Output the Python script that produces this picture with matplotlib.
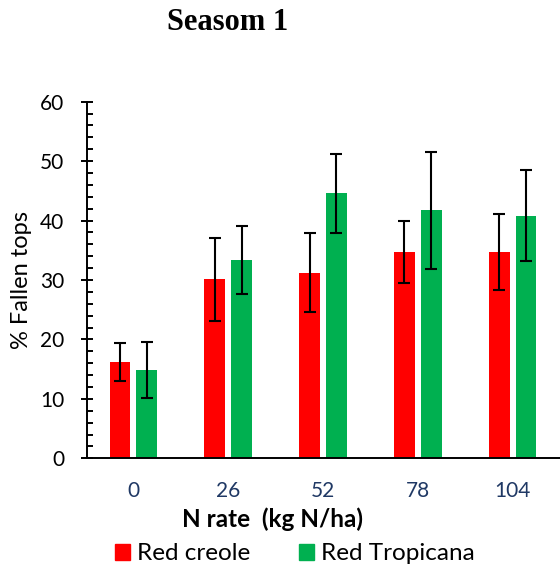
import numpy as np
import matplotlib
matplotlib.use("Agg")
import matplotlib.pyplot as plt
from matplotlib.patches import Patch
from matplotlib.ticker import MultipleLocator

rates = ["0", "26", "52", "78", "104"]
creole = [16.25, 30.1, 31.2, 34.7, 34.7]
creole_err = [3.2, 7.05, 6.65, 5.2, 6.45]
tropicana = [14.9, 33.4, 44.6, 41.7, 40.8]
tropicana_err = [4.7, 5.7, 6.65, 9.9, 7.65]

RED = "#FF0000"
GREEN = "#00B050"
NAVY = "#1F3864"
FONT = "Lato"

W, H = 560, 571
fig = plt.figure(figsize=(W / 100, H / 100), dpi=100)
# axes box in pixel terms: spine at x=87, zero line at y=458, 60 at y=102
ax = fig.add_axes([87 / W, 1 - 458.3 / H, (W - 87) / W, (458.3 - 101.7) / H])

x = np.arange(len(rates))
bw = 0.22
off = 0.142
ekw = dict(ecolor="black", elinewidth=1.5, capsize=4.2, capthick=1.5)
ax.bar(x - off, creole, bw, color=RED, yerr=creole_err, error_kw=ekw, zorder=2)
ax.bar(x + off, tropicana, bw, color=GREEN, yerr=tropicana_err, error_kw=ekw, zorder=2)

ax.set_xlim(-0.49, 4.5)
ax.set_ylim(0, 60)
ax.yaxis.set_major_locator(MultipleLocator(10))
ax.yaxis.set_minor_locator(MultipleLocator(2))
ax.tick_params(axis="y", which="major", direction="inout", length=9, width=1.4,
               labelsize=15, pad=12)
ax.tick_params(axis="y", which="minor", direction="in", length=4, width=1.4)
ax.tick_params(axis="x", length=0, labelsize=15, labelcolor=NAVY, pad=16)
ax.set_xticks(x)
ax.set_xticklabels(rates)
for lab in ax.get_xticklabels() + ax.get_yticklabels():
    lab.set_family(FONT)

for s in ("top", "right"):
    ax.spines[s].set_visible(False)
ax.spines["left"].set_linewidth(1.4)
ax.spines["bottom"].set_linewidth(1.4)

ax.set_ylabel("% Fallen tops", fontsize=17, family=FONT, labelpad=6)

fig.text(228 / W, 1 - 22 / H, "Seasom 1", ha="center", va="center",
         family="Liberation Serif", weight="bold", fontsize=22)
fig.text(273 / W, 1 - 519 / H, "N rate  (kg N/ha)", ha="center", va="center",
         family=FONT, weight="bold", fontsize=17.5)

handles = [Patch(color=RED, label="Red creole"), Patch(color=GREEN, label="Red Tropicana")]
fig.legend(handles=handles, loc="center", bbox_to_anchor=(295 / W, 1 - 554 / H),
           ncol=2, frameon=False, prop={"family": FONT, "size": 17.5},
           handlelength=0.62, handleheight=0.62, handletextpad=0.3, columnspacing=2.0,
           borderpad=0, borderaxespad=0)

fig.savefig("out.png", dpi=100)
print("done")
